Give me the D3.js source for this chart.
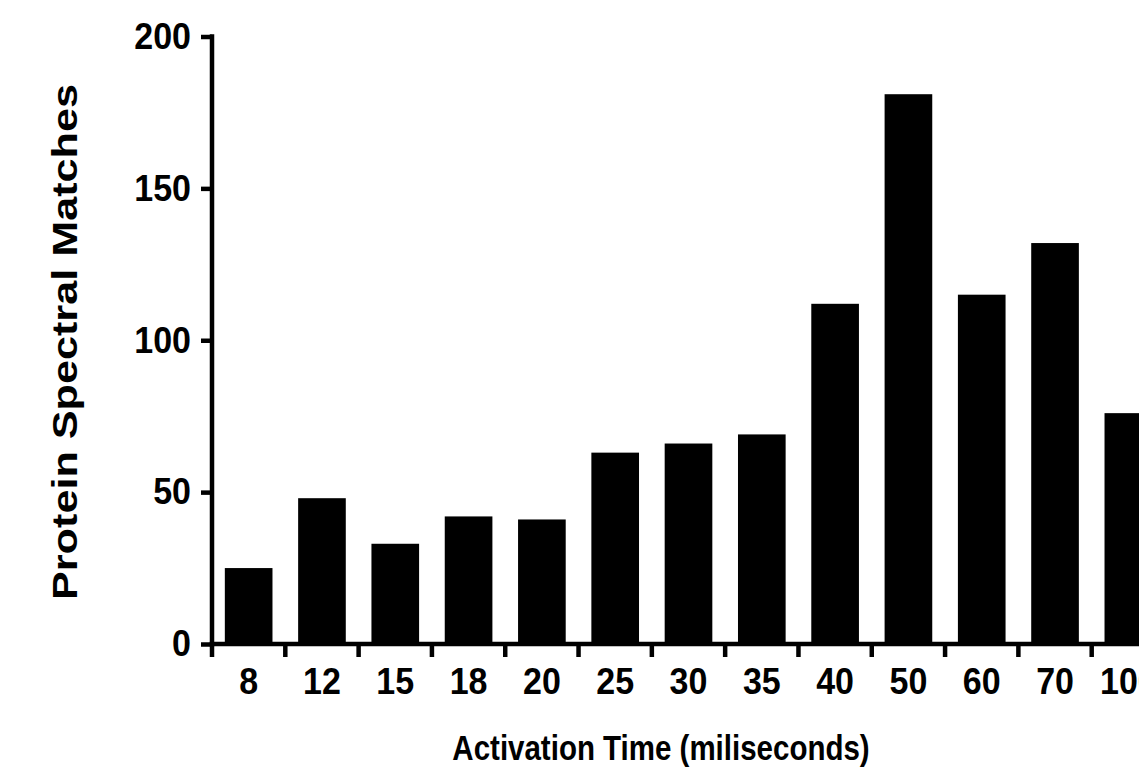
<!DOCTYPE html>
<html>
<head>
<meta charset="utf-8">
<script src="https://cdn.jsdelivr.net/npm/d3@7"></script>
<style>
  html, body { margin: 0; padding: 0; background: #fff; overflow: hidden; }
  svg { display: block; }
  text { font-family: Arial, "Liberation Sans", Helvetica, sans-serif; font-weight: bold; fill: #000; }
</style>
</head>
<body>
<svg id="chart" width="1139" height="783"></svg>
<script>
const categories = ["8", "12", "15", "18", "20", "25", "30", "35", "40", "50", "60", "70", "100"];
const matches = [25, 48, 33, 42, 41, 63, 66, 69, 112, 181, 115, 132, 76];
const yTicks = [0, 50, 100, 150, 200];
const xTitle = "Activation Time (miliseconds)";
const yTitle = "Protein Spectral Matches";

const svg = d3.select("#chart");
const x0 = 212, x1 = 1165, yBase = 644, yTop = 36.5;

const x = d3.scaleBand().domain(categories).range([x0, x1]).paddingInner(0.35).paddingOuter(0.175);
const y = d3.scaleLinear().domain([0, 200]).range([yBase, yTop]);

svg.append("g").selectAll("rect").data(categories).join("rect")
  .attr("x", d => x(d))
  .attr("width", x.bandwidth())
  .attr("y", (d, i) => y(matches[i]))
  .attr("height", (d, i) => yBase - y(matches[i]))
  .attr("fill", "#000");

// Y axis
const yAxis = d3.axisLeft(y).tickValues(yTicks).tickSize(11).tickPadding(10);
const gy = svg.append("g").attr("transform", `translate(${x0},0)`).call(yAxis);
gy.select(".domain").attr("d", `M0,${yTop - 2.3}V${yBase + 2.3}`).attr("stroke-width", 4.5).attr("stroke", "#000");
gy.selectAll(".tick line").attr("stroke-width", 4.5).attr("stroke", "#000");
gy.selectAll(".tick text")
  .style("font-size", "34px").style("font-weight", "bold")
  .style("font-family", "Arial, 'Liberation Sans', sans-serif").attr("fill", "#000")
  .attr("transform", "scale(1,1.08)");

// X axis: ticks at category boundaries
const gx = svg.append("g").attr("transform", `translate(0,${yBase})`);
gx.append("line").attr("x1", x0 - 2.3).attr("x2", x1 + 20).attr("y1", 0).attr("y2", 0)
  .attr("stroke", "#000").attr("stroke-width", 4.5);
const boundary = (d, i) => i === 0 ? x0 : x(d) - x.step() * x.paddingInner() / 2;
gx.selectAll("line.tk").data(categories).join("line").attr("class", "tk")
  .attr("x1", boundary).attr("x2", boundary)
  .attr("y1", 0).attr("y2", 13).attr("stroke", "#000").attr("stroke-width", 4.5);
gx.selectAll("text").data(categories).join("text")
  .attr("transform", d => `translate(${x(d) + x.bandwidth() / 2},50) scale(1,1.08)`)
  .attr("text-anchor", "middle")
  .style("font-size", "34px")
  .text(d => d);

svg.append("text").attr("transform", "translate(661,760) scale(1,1.22)").attr("text-anchor", "middle")
  .style("font-size", "29.5px").text(xTitle);
svg.append("text").attr("transform", "translate(77,342) scale(1,1.2) rotate(-90)").attr("text-anchor", "middle")
  .style("font-size", "36px").text(yTitle);
</script>
</body>
</html>
